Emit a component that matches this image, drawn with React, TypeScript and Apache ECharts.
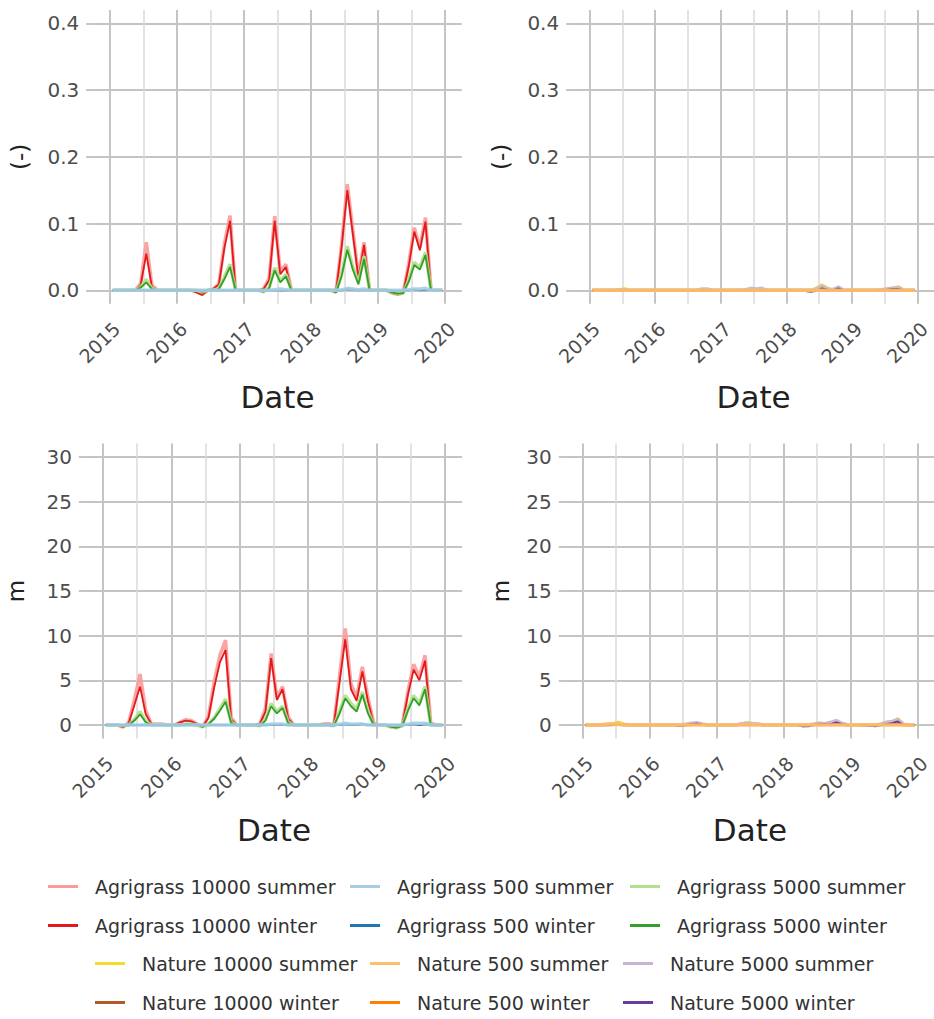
import React, { useEffect, useRef } from "react";
import * as echarts from "echarts";

// ---------- axes ----------
const yearTicks = [2015, 2016, 2017, 2018, 2019, 2020];
const halfYearTicks = [2015.5, 2016.5, 2017.5, 2018.5, 2019.5];
const ratioTicks = [0, 0.1, 0.2, 0.3, 0.4];
const lengthTicks = [0, 5, 10, 15, 20, 25, 30];

// monthly observations, Jan 2015 .. Dec 2019 (mid-month)
const monthLabels: string[] = [];
for (let y = 2015; y <= 2019; y++) for (let m = 1; m <= 12; m++) monthLabels.push(`${y}-${String(m).padStart(2, "0")}`);
const monthPos = monthLabels.map((s) => {
  const [y, m] = s.split("-").map(Number);
  return y + (m - 0.5) / 12;
});

// ---------- top-left: (-) Agrigrass ----------
const ratioA10000s = [
  0, 0, 0, 0, 0, 0.01, 0.072, 0.008, 0, 0, 0, 0,
  0, 0, 0, -0.002, -0.006, 0, 0.002, 0.01, 0.07, 0.112, 0, 0,
  0, 0, 0, 0.002, 0.018, 0.111, 0.027, 0.039, 0, 0, 0, 0,
  0, 0, 0, 0, 0, 0.07, 0.159, 0.09, 0.021, 0.072, 0, 0,
  0, 0, -0.004, -0.006, -0.004, 0.04, 0.094, 0.064, 0.109, 0, 0, 0,
];
const ratioA10000w = [
  0, 0, 0, 0, 0, 0.008, 0.055, 0.005, 0, 0, 0, 0,
  0, 0, 0, -0.003, -0.007, 0, 0.002, 0.009, 0.064, 0.104, 0, 0,
  0, 0, 0, 0.002, 0.015, 0.104, 0.024, 0.035, 0, 0, 0, 0,
  0, 0, 0, 0, 0, 0.066, 0.15, 0.084, 0.018, 0.068, 0, 0,
  0, 0, -0.004, -0.006, -0.004, 0.036, 0.088, 0.06, 0.103, 0, 0, 0,
];
const ratioA500s = [
  0, 0, 0, 0, 0, 0, 0, 0, 0, 0, 0, 0,
  0, 0, 0, 0, 0, 0, 0, 0, 0, 0, 0, 0,
  0, 0, 0, 0, 0, 0.001, 0.002, 0.001, 0, 0, 0, 0,
  0, 0, 0, 0, 0, 0.001, 0.003, 0.002, 0.001, 0.002, 0, 0,
  0, 0, 0, 0, 0, 0.001, 0.002, 0.002, 0.003, 0, 0, 0,
];
const ratioA500w = [
  0, 0, 0, 0, 0, 0, 0, 0, 0, 0, 0, 0,
  0, 0, 0, 0, 0, 0, 0, 0, 0, 0, 0, 0,
  0, 0, 0, 0, 0, 0, 0, 0, 0, 0, 0, 0,
  0, 0, 0, 0, 0, 0, 0.002, 0.001, 0, 0.001, 0, 0,
  0, 0, 0, -0.001, 0, 0, 0.001, 0, 0.001, 0, 0, 0,
];
const ratioA5000s = [
  0, 0, 0, 0, 0, 0.005, 0.016, 0.003, 0, 0, 0, 0,
  0, 0, 0, 0, -0.002, 0, 0, 0.003, 0.02, 0.039, 0, 0,
  0, 0, 0, -0.002, 0.004, 0.034, 0.014, 0.024, 0, 0, 0, 0,
  0, 0, 0, 0, -0.003, 0.025, 0.066, 0.035, 0.012, 0.051, 0, 0,
  0, 0, -0.003, -0.005, -0.004, 0.015, 0.042, 0.034, 0.057, 0, 0, 0,
];
const ratioA5000w = [
  0, 0, 0, 0, 0, 0.004, 0.012, 0.002, 0, 0, 0, 0,
  0, 0, 0, 0, -0.002, 0, 0, 0.002, 0.017, 0.035, 0, 0,
  0, 0, 0, -0.002, 0.003, 0.03, 0.012, 0.021, 0, 0, 0, 0,
  0, 0, 0, 0, -0.003, 0.022, 0.061, 0.031, 0.009, 0.047, 0, 0,
  0, 0, -0.003, -0.005, -0.004, 0.013, 0.038, 0.031, 0.053, 0, 0, 0,
];

// ---------- top-right: (-) Nature ----------
const ratioN10000s = [
  0, 0, 0, 0, 0, 0.001, 0.002, 0, 0, 0, 0, 0,
  0, 0, 0, 0, 0, 0, 0, 0, 0.001, 0.001, 0, 0,
  0, 0, 0, 0, 0, 0.002, 0.001, 0.001, 0, 0, 0, 0,
  0, 0, 0, 0, 0, 0.003, 0.008, 0.003, 0, 0.003, 0, 0,
  0, 0, 0, 0, 0, 0.001, 0.002, 0.003, 0.005, 0, 0, 0,
];
const ratioN10000w = [
  0, 0, 0, 0, 0, 0, 0, 0, 0, 0, 0, 0,
  0, 0, 0, 0, 0, 0, 0, 0, 0, 0, 0, 0,
  0, 0, 0, 0, 0, 0, 0, 0, 0, 0, 0, 0,
  0, 0, 0, -0.001, -0.002, 0, 0.002, 0, 0, 0, 0, 0,
  0, 0, 0, 0, -0.001, 0, 0, 0, 0, 0, 0, 0,
];
const ratioN500s = [
  0, 0, 0, 0, 0, 0, 0, 0, 0, 0, 0, 0,
  0, 0, 0, 0, 0, 0, 0, 0, 0, 0, 0, 0,
  0, 0, 0, 0, 0, 0, 0, 0, 0, 0, 0, 0,
  0, 0, 0, 0, 0, 0, 0, 0, 0, 0, 0, 0,
  0, 0, 0, 0, 0, 0, 0, 0, 0, 0, 0, 0,
];
const ratioN500w = [
  0, 0, 0, 0, 0, 0, 0, 0, 0, 0, 0, 0,
  0, 0, 0, 0, 0, 0, 0, 0, 0, 0, 0, 0,
  0, 0, 0, 0, 0, 0, 0, 0, 0, 0, 0, 0,
  0, 0, 0, 0, 0, 0, 0, 0, 0, 0, 0, 0,
  0, 0, 0, 0, 0, 0, 0, 0, 0, 0, 0, 0,
];
const ratioN5000s = [
  0, 0, 0, 0, 0, 0.001, 0.001, 0, 0, 0, 0, 0,
  0, 0, 0, 0, 0, 0, 0, 0, 0.002, 0.002, 0, 0,
  0, 0, 0, 0, 0.001, 0.003, 0.002, 0.003, 0, 0, 0, 0,
  0, 0, 0, 0, 0, 0.002, 0.006, 0.002, 0.001, 0.005, 0, 0,
  0, 0, 0, 0, 0, 0.001, 0.002, 0.003, 0.004, 0, 0, 0,
];
const ratioN5000w = [
  0, 0, 0, 0, 0, 0, 0, 0, 0, 0, 0, 0,
  0, 0, 0, 0, 0, 0, 0, 0, 0, 0, 0, 0,
  0, 0, 0, 0, 0, 0, 0, 0, 0, 0, 0, 0,
  0, 0, 0, -0.001, -0.002, -0.001, 0.003, 0.001, 0, 0.003, 0, 0,
  0, 0, 0, 0, 0, 0, 0.001, 0.002, 0.002, 0, 0, 0,
];

// ---------- bottom-left: m Agrigrass ----------
const lenA10000s = [
  0, 0, 0, -0.25, 0.3, 2.8, 5.7, 1.6, 0.1, 0.1, 0.1, 0,
  0, 0.3, 0.6, 0.5, 0.1, -0.2, 1.0, 4.8, 7.8, 9.5, 0.8, 0,
  0, 0, 0, 0.1, 1.8, 8.0, 3.1, 4.3, 0.9, 0, 0, 0,
  0, 0, 0.1, 0.15, 0, 5.5, 10.8, 4.6, 3.1, 6.5, 3.0, 0.2,
  0, 0, -0.2, -0.3, 0, 3.8, 6.8, 5.4, 7.8, 0.2, 0, 0,
];
const lenA10000w = [
  0, 0, 0, -0.25, 0.2, 2.2, 4.3, 1.2, 0.1, 0, 0, 0,
  0, 0.3, 0.5, 0.4, 0.1, -0.2, 0.8, 4.2, 7.0, 8.4, 0.6, 0,
  0, 0, 0, 0.1, 1.5, 7.5, 2.8, 4.0, 0.7, 0, 0, 0,
  0, 0, 0.1, 0.1, 0, 4.8, 9.6, 4.0, 2.7, 6.0, 2.6, 0.1,
  0, 0, -0.2, -0.3, 0, 3.4, 6.2, 5.0, 7.2, 0.1, 0, 0,
];
const lenA500s = [
  0, 0, 0, 0, 0, 0, 0, 0, 0, 0, 0, 0,
  0, 0, 0, 0, 0, 0, 0, 0, 0, 0, 0, 0,
  0, 0, 0, 0, 0, 0.1, 0.1, 0.1, 0, 0, 0, 0,
  0, 0, 0, 0, 0, 0.1, 0.2, 0.1, 0.1, 0.1, 0, 0,
  0, 0, 0, 0, 0, 0.1, 0.2, 0.2, 0.2, 0, 0, 0,
];
const lenA500w = [
  0, 0, 0, 0, 0, 0, 0, 0, 0, 0, 0, 0,
  0, 0, 0, 0, 0, 0, 0, 0, 0, 0, 0, 0,
  0, 0, 0, 0, 0, 0, 0, 0, 0, 0, 0, 0,
  0, 0, 0, 0, 0, 0, 0.1, 0, 0, 0.1, 0, 0,
  0, 0, 0, 0, 0, 0, 0.1, 0, 0.1, 0, 0, 0,
];
const lenA5000s = [
  0, 0, 0, -0.1, 0, 0.6, 1.5, 0.4, 0, 0, 0, 0,
  0, 0, 0.1, 0.1, 0, -0.2, 0.1, 0.8, 1.8, 2.9, 0.3, 0,
  0, 0, 0, -0.1, 0.6, 2.4, 1.5, 2.1, 0.3, 0, 0, 0,
  0, 0, 0, 0, -0.1, 1.5, 3.3, 2.4, 1.8, 3.7, 1.5, 0,
  0, 0, -0.2, -0.3, -0.1, 1.8, 3.3, 2.4, 4.3, 0, 0, 0,
];
const lenA5000w = [
  0, 0, 0, -0.1, 0, 0.5, 1.2, 0.3, 0, 0, 0, 0,
  0, 0, 0.1, 0.1, 0, -0.2, 0.1, 0.7, 1.6, 2.6, 0.2, 0,
  0, 0, 0, -0.1, 0.5, 2.1, 1.3, 1.9, 0.2, 0, 0, 0,
  0, 0, 0, 0, -0.1, 1.3, 3.0, 2.1, 1.5, 3.4, 1.3, 0,
  0, 0, -0.2, -0.3, -0.1, 1.6, 3.0, 2.2, 4.0, 0, 0, 0,
];

// ---------- bottom-right: m Nature ----------
const lenN10000s = [
  0, 0, 0, 0, 0.1, 0.15, 0.3, 0.1, 0, 0, 0, 0,
  0, 0, 0, 0, 0, 0, 0, 0.05, 0.15, 0.1, 0, 0,
  0, 0, 0, 0, 0.1, 0.25, 0.15, 0.1, 0, 0, 0, 0,
  0, 0, 0, 0, 0, 0.1, 0.2, 0.1, 0.2, 0.3, 0.1, 0,
  0, 0, 0, 0, 0, 0.1, 0.3, 0.3, 0.7, 0, 0, 0,
];
const lenN10000w = [
  0, 0, 0, 0, 0, 0, 0, 0, 0, 0, 0, 0,
  0, 0, 0, 0, 0, -0.1, 0, 0, 0, 0, 0, 0,
  0, 0, 0, 0, 0, 0, 0, 0, 0, 0, 0, 0,
  0, 0, 0, -0.15, -0.1, 0, 0.1, 0, 0, 0.1, 0, 0,
  0, 0, 0, -0.05, -0.1, 0, 0, 0, 0.2, 0, 0, 0,
];
const lenN500s = [
  0, 0, 0, 0.05, 0.1, 0.1, 0.05, 0, 0, 0, 0, 0,
  0, 0, 0, 0, 0, 0, 0, 0, 0, 0, 0, 0,
  0, 0, 0, 0, 0, 0, 0, 0, 0, 0, 0, 0,
  0, 0, 0, 0, 0, 0, 0, 0, 0, 0, 0, 0,
  0, 0, 0, 0, 0, 0, 0, 0, 0, 0, 0, 0,
];
const lenN500w = [
  0, 0, 0, 0, 0, 0, 0, 0, 0, 0, 0, 0,
  0, 0, 0, 0, 0, 0, 0, 0, 0, 0, 0, 0,
  0, 0, 0, 0, 0, 0, 0, 0, 0, 0, 0, 0,
  0, 0, 0, 0, 0, 0, 0, 0, 0, 0, 0, 0,
  0, 0, 0, 0, 0, 0, 0, 0, 0, 0, 0, 0,
];
const lenN5000s = [
  0, 0, 0, 0, 0, 0.05, 0.1, 0, 0, 0, 0, 0,
  0, 0, 0, 0, 0, 0, 0.1, 0.2, 0.25, 0.1, 0, 0,
  0, 0, 0, 0, 0.15, 0.2, 0.15, 0.1, 0, 0, 0, 0,
  0, 0, 0, 0, 0, 0.1, 0.2, 0.15, 0.3, 0.5, 0.2, 0,
  0, 0, 0, 0, 0, 0.1, 0.3, 0.4, 0.6, 0.1, 0, 0,
];
const lenN5000w = [
  0, 0, 0, 0, 0, 0, 0, 0, 0, 0, 0, 0,
  0, 0, 0, 0, 0, -0.1, 0, 0.1, 0.15, 0.05, 0, 0,
  0, 0, 0, 0, 0, 0, 0, 0, 0, 0, 0, 0,
  0, 0, 0, -0.15, -0.15, 0, 0.1, 0.1, 0.1, 0.3, 0.1, 0,
  0, 0, -0.05, -0.1, -0.15, 0, 0.1, 0.2, 0.4, 0, 0, 0,
];

// ---------- series identity ----------
const names = {
  A10000s: "Agrigrass 10000 summer",
  A10000w: "Agrigrass 10000 winter",
  A500s: "Agrigrass 500 summer",
  A500w: "Agrigrass 500 winter",
  A5000s: "Agrigrass 5000 summer",
  A5000w: "Agrigrass 5000 winter",
  N10000s: "Nature 10000 summer",
  N10000w: "Nature 10000 winter",
  N500s: "Nature 500 summer",
  N500w: "Nature 500 winter",
  N5000s: "Nature 5000 summer",
  N5000w: "Nature 5000 winter",
};
const colors: Record<string, string> = {
  A10000s: "#fb9a99",
  A10000w: "#e31a1c",
  A500s: "#a6cee3",
  A500w: "#1f78b4",
  A5000s: "#b2df8a",
  A5000w: "#33a02c",
  N10000s: "#f0dc2a",
  N10000w: "#b15928",
  N500s: "#fdbf6f",
  N500w: "#ff7f00",
  N5000s: "#cab2d6",
  N5000w: "#6a3d9a",
};

const FONT = "DejaVu Sans";
const MAJOR = "#c4c4c4";
const MINOR = "#dadada";

export default function App() {
  const ref = useRef<HTMLDivElement>(null);

  useEffect(() => {
    if (!ref.current) return;
    const chart = echarts.init(ref.current, null, { renderer: "svg" });

    const grids = [
      { left: 93.25, top: 10, width: 368.5, height: 293.7 },
      { left: 573.2, top: 10, width: 370.7, height: 293.7 },
      { left: 85.9, top: 443.6, width: 376.2, height: 294.8 },
      { left: 565.8, top: 443.6, width: 378.4, height: 294.8 },
    ];
    const yCfg = [
      { min: -0.02, max: 0.42, ticks: ratioTicks, name: "(-)", gap: 62, fmt: (v: number) => v.toFixed(1) },
      { min: -0.02, max: 0.42, ticks: ratioTicks, name: "(-)", gap: 61, fmt: (v: number) => v.toFixed(1) },
      { min: -1.5, max: 31.5, ticks: lengthTicks, name: "m", gap: 58, fmt: (v: number) => String(v) },
      { min: -1.5, max: 31.5, ticks: lengthTicks, name: "m", gap: 53, fmt: (v: number) => String(v) },
    ];
    const dateGap = [78, 78, 76, 76];

    const xAxis: any[] = [];
    const yAxis: any[] = [];
    grids.forEach((_, i) => {
      xAxis.push({
        gridIndex: i,
        type: "value",
        min: 2014.75,
        max: 2020.25,
        axisLine: { show: false },
        axisTick: { show: true, customValues: yearTicks, length: 7, lineStyle: { color: MAJOR, width: 2 } },
        axisLabel: {
          customValues: yearTicks,
          rotate: 45,
          margin: 15,
          align: "right",
          verticalAlign: "top",
          fontSize: 19,
          fontFamily: FONT,
          color: "#4d4d4d",
          formatter: (v: number) => String(v),
        },
        splitLine: { show: true, lineStyle: { color: MAJOR, width: 2 } },
        name: "Date",
        nameLocation: "middle",
        nameGap: dateGap[i],
        nameTextStyle: { fontSize: 31, fontFamily: FONT, color: "#222" },
      });
      yAxis.push({
        gridIndex: i,
        type: "value",
        min: yCfg[i].min,
        max: yCfg[i].max,
        axisLine: { show: false },
        axisTick: { show: true, customValues: yCfg[i].ticks, length: 7, lineStyle: { color: MAJOR, width: 2 } },
        axisLabel: {
          customValues: yCfg[i].ticks,
          margin: 14,
          fontSize: 20,
          fontFamily: FONT,
          color: "#4d4d4d",
          formatter: yCfg[i].fmt,
        },
        splitLine: { show: true, lineStyle: { color: MAJOR, width: 2 } },
        name: yCfg[i].name,
        nameLocation: "middle",
        nameRotate: 90,
        nameGap: yCfg[i].gap,
        nameTextStyle: { fontSize: 23, fontFamily: FONT, color: "#222" },
      });
    });
    // minor vertical grid lines (half years)
    grids.forEach((_, i) => {
      xAxis.push({
        gridIndex: i,
        type: "value",
        min: 2014.75,
        max: 2020.25,
        axisLine: { show: false },
        axisTick: { show: false, customValues: halfYearTicks },
        axisLabel: { show: false, customValues: halfYearTicks },
        splitLine: { show: true, lineStyle: { color: MINOR, width: 1.5 } },
      });
    });

    const mk = (key: string, vals: number[], panel: number, light: boolean) => ({
      name: (names as any)[key],
      type: "line",
      xAxisIndex: panel,
      yAxisIndex: panel,
      data: monthPos.map((t, k) => [t, vals[k]]),
      symbol: "none",
      lineStyle: { color: colors[key], width: light ? 3.5 : 1.8, opacity: light ? 0.9 : 1 },
      itemStyle: { color: colors[key] },
    });

    // draw order: winter core on top of its summer band, light blue/orange baseline last
    const series = [
      // top-left
      mk("A10000s", ratioA10000s, 0, true),
      mk("A10000w", ratioA10000w, 0, false),
      mk("A5000s", ratioA5000s, 0, true),
      mk("A5000w", ratioA5000w, 0, false),
      mk("A500w", ratioA500w, 0, false),
      mk("A500s", ratioA500s, 0, true),
      // top-right
      mk("N10000s", ratioN10000s, 1, true),
      mk("N10000w", ratioN10000w, 1, false),
      mk("N5000s", ratioN5000s, 1, true),
      mk("N5000w", ratioN5000w, 1, false),
      mk("N500w", ratioN500w, 1, false),
      mk("N500s", ratioN500s, 1, true),
      // bottom-left
      mk("A10000s", lenA10000s, 2, true),
      mk("A10000w", lenA10000w, 2, false),
      mk("A5000s", lenA5000s, 2, true),
      mk("A5000w", lenA5000w, 2, false),
      mk("A500w", lenA500w, 2, false),
      mk("A500s", lenA500s, 2, true),
      // bottom-right
      mk("N10000s", lenN10000s, 3, true),
      mk("N10000w", lenN10000w, 3, false),
      mk("N5000s", lenN5000s, 3, true),
      mk("N5000w", lenN5000w, 3, false),
      mk("N500w", lenN500w, 3, false),
      mk("N500s", lenN500s, 3, true),
    ];

    const legendLayout: [string, number, number][] = [
      ["A10000s", 48, 888], ["A500s", 350, 888], ["A5000s", 630, 888],
      ["A10000w", 48, 927], ["A500w", 350, 927], ["A5000w", 630, 927],
      ["N10000s", 95, 965], ["N500s", 370, 965], ["N5000s", 623, 965],
      ["N10000w", 95, 1004], ["N500w", 370, 1004], ["N5000w", 623, 1004],
    ];
    const legend = legendLayout.map(([key, x, yc]) => ({
      data: [(names as any)[key]],
      left: x,
      top: yc - 11,
      padding: 0,
      icon: "rect",
      itemWidth: 30,
      itemHeight: 3,
      itemGap: 0,
      selectedMode: false,
      textStyle: { fontSize: 19, fontFamily: FONT, color: "#333", padding: [0, 0, 0, 12] },
    }));

    chart.setOption({
      animation: false,
      backgroundColor: "#ffffff",
      textStyle: { fontFamily: FONT },
      grid: grids,
      xAxis,
      yAxis,
      legend,
      series,
    });
    return () => chart.dispose();
  }, []);

  return (
    <div
      ref={ref}
      style={{ position: "fixed", left: 0, top: 0, width: 934, height: 1019 }}
    />
  );
}
